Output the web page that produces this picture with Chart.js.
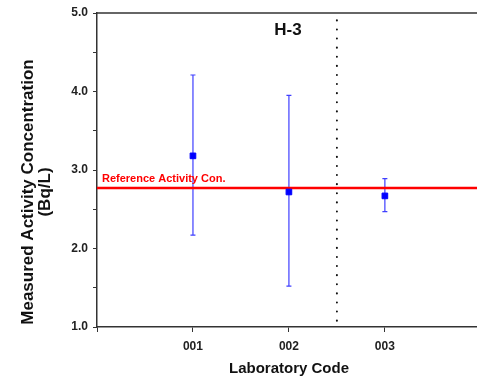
<!DOCTYPE html>
<html>
<head>
<meta charset="utf-8">
<script src="https://cdn.jsdelivr.net/npm/chart.js@4"></script>
<style>
  html, body { margin: 0; background: #fff; overflow: hidden; }
  canvas { display: block; }
</style>
</head>
<body>
<canvas id="myChart" width="482" height="378"></canvas>
<script>
// Datos
const labCodes = ['001', '002', '003'];
const labPos = [1, 2, 3];
const measured = [3.18, 2.72, 2.67];
const upperErr = [4.21, 3.95, 2.89];
const lowerErr = [2.17, 1.52, 2.47];
const refValue = 2.77;
const yTicks = [1.0, 2.0, 3.0, 4.0, 5.0];
const dividerX = 2.5;

const FONT = "'Liberation Sans', Arial, sans-serif";
const AXIS = '#333333';

// Barras de error, borde superior y textos
const extras = {
    id: 'extras',
    beforeDatasetsDraw(chart) {
        const ctx = chart.ctx;
        const x = chart.scales.x, y = chart.scales.y;
        const area = chart.chartArea;
        ctx.save();
        // borde superior
        ctx.strokeStyle = AXIS;
        ctx.lineWidth = 1.5;
        ctx.beginPath();
        ctx.moveTo(area.left, area.top);
        ctx.lineTo(area.right, area.top);
        ctx.stroke();
        // barras de error
        ctx.strokeStyle = '#3f3fff';
        ctx.lineWidth = 1.2;
        for (let i = 0; i < labPos.length; i++) {
            const px = x.getPixelForValue(labPos[i]);
            const top = y.getPixelForValue(upperErr[i]);
            const bot = y.getPixelForValue(lowerErr[i]);
            ctx.beginPath();
            ctx.moveTo(px, top);
            ctx.lineTo(px, bot);
            ctx.moveTo(px - 2.5, top);
            ctx.lineTo(px + 2.5, top);
            ctx.moveTo(px - 2.5, bot);
            ctx.lineTo(px + 2.5, bot);
            ctx.stroke();
        }
        ctx.restore();
    },
    afterDatasetsDraw(chart) {
        const ctx = chart.ctx;
        const x = chart.scales.x, y = chart.scales.y;
        ctx.save();
        ctx.fillStyle = '#111';
        ctx.font = 'bold 17px ' + FONT;
        ctx.textAlign = 'center';
        ctx.textBaseline = 'middle';
        ctx.fillText('H-3', 288, 30);

        // títulos de los ejes
        ctx.font = 'bold 15px ' + FONT;
        ctx.fillText('Laboratory Code', 289, 369);
        ctx.save();
        ctx.translate(28, 192);
        ctx.rotate(-Math.PI / 2);
        ctx.font = 'bold 17px ' + FONT;
        ctx.fillText('Measured Activity Concentration', 0, 0);
        ctx.fillText('(Bq/L)', 0, 17);
        ctx.restore();

        ctx.fillStyle = '#ff0000';
        ctx.font = 'bold 11px ' + FONT;
        ctx.textAlign = 'left';
        ctx.textBaseline = 'alphabetic';
        ctx.fillText('Reference Activity Con.', x.getPixelForValue(0) + 5, y.getPixelForValue(refValue) - 6);
        ctx.restore();
    }
};

const config = {
    type: 'scatter',
    data: {
        datasets: [
            {
                label: 'Medido',
                data: labPos.map((p, i) => ({ x: p, y: measured[i] })),
                pointStyle: 'rect',
                pointRadius: 4,
                backgroundColor: '#0000ff',
                borderColor: '#0000ff',
                order: 0
            },
            {
                label: 'Referencia',
                type: 'line',
                data: [{ x: 0, y: refValue }, { x: 3.96, y: refValue }],
                borderColor: '#ff0000',
                borderWidth: 2.5,
                pointRadius: 0,
                order: 2
            },
            {
                label: 'Divisor',
                type: 'line',
                data: [{ x: dividerX, y: 1.08 }, { x: dividerX, y: 5 }],
                borderColor: '#111',
                borderWidth: 2,
                borderDash: [0.1, 9],
                borderCapStyle: 'round',
                pointRadius: 0,
                order: 3
            }
        ]
    },
    options: {
        responsive: false,
        animation: false,
        layout: { padding: { top: 13, right: 0, left: 0, bottom: 0 } },
        plugins: { legend: { display: false }, tooltip: { enabled: false } },
        scales: {
            x: {
                type: 'linear',
                min: 0,
                max: 3.96,
                afterBuildTicks: (s) => { s.ticks = [0, 1, 2, 3].map(v => ({ value: v })); },
                afterFit: (s) => { s.height = 51; s.paddingRight = 0; s.paddingLeft = 0; },
                ticks: {
                    callback: (v) => (v >= 1 ? labCodes[v - 1] : ''),
                    color: '#222',
                    font: { family: FONT, size: 12, weight: 'bold' },
                    padding: 7,
                    maxRotation: 0
                },
                grid: { drawOnChartArea: false, drawTicks: true, tickLength: 5, color: AXIS },
                border: { color: AXIS, width: 1.5 }
            },
            y: {
                min: 1,
                max: 5,
                afterBuildTicks: (s) => {
                    const t = [];
                    for (let v = 1; v <= 5.001; v += 0.5) t.push({ value: Math.round(v * 10) / 10 });
                    s.ticks = t;
                },
                afterFit: (s) => { s.width = 97; },
                ticks: {
                    callback: (v) => (yTicks.includes(v) ? v.toFixed(1) : ''),
                    color: '#222',
                    font: { family: FONT, size: 12, weight: 'bold' },
                    padding: 5
                },
                grid: { drawOnChartArea: false, drawTicks: true, tickLength: 4, color: AXIS },
                border: { color: AXIS, width: 1.5 }
            }
        }
    },
    plugins: [extras]
};

const myChart = new Chart(document.getElementById('myChart'), config);
</script>
</body>
</html>
